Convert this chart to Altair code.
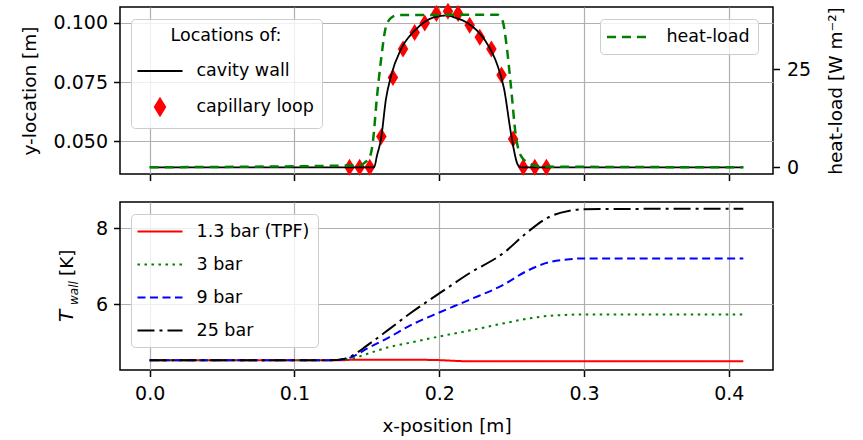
import altair as alt
import pandas as pd

FONT = "DejaVu Sans"

# ---------------- top panel data ----------------
wall_x = [0.0, 0.155, 0.157, 0.1598, 0.1632, 0.1667, 0.1736, 0.1828, 0.192, 0.2011,
          0.2055, 0.2103, 0.2196, 0.231, 0.2403, 0.2448, 0.2494, 0.254, 0.2563, 0.41]
wall_y = [0.039, 0.039, 0.044, 0.051, 0.0679, 0.0777, 0.089, 0.0967, 0.1013, 0.1030,
          0.1032, 0.1024, 0.1000, 0.0932, 0.0819, 0.0721, 0.0538, 0.0404, 0.039, 0.039]

loop_x = [0.138, 0.145, 0.152, 0.160, 0.168, 0.175, 0.183, 0.190, 0.198, 0.206,
          0.213, 0.221, 0.228, 0.236, 0.243, 0.251, 0.258, 0.266, 0.274]
loop_y = [0.039, 0.039, 0.039, 0.052, 0.077, 0.089, 0.096, 0.100, 0.104, 0.105,
          0.104, 0.099, 0.094, 0.089, 0.078, 0.051, 0.039, 0.039, 0.039]

heat_x = [0.0, 0.1437, 0.1513, 0.154, 0.157, 0.160, 0.163, 0.1667, 0.171, 0.2402,
          0.2437, 0.2465, 0.2494, 0.2529, 0.2563, 0.2632, 0.27, 0.41]
heat_q = [0.0, 0.5, 2.1, 6.0, 18.0, 28.0, 35.5, 38.0, 38.7, 38.8,
          37.3, 31.0, 21.0, 8.0, 3.0, 0.8, 0.2, 0.0]

loc_names = ["cavity wall", "capillary loop"]
heat_name = ["heat-load"]

# ---------------- bottom panel data ----------------
t_x = [0.0, 0.05, 0.10, 0.125, 0.135, 0.14, 0.15, 0.165, 0.18, 0.20, 0.22, 0.245,
       0.26, 0.275, 0.29, 0.30, 0.35, 0.41]
t_13 = [4.54, 4.54, 4.54, 4.54, 4.54, 4.55, 4.55, 4.55, 4.55, 4.54, 4.51, 4.51,
        4.51, 4.51, 4.51, 4.51, 4.51, 4.51]
t_3 = [4.54, 4.54, 4.54, 4.54, 4.55, 4.58, 4.70, 4.88, 5.00, 5.16, 5.31, 5.51,
       5.62, 5.70, 5.73, 5.74, 5.74, 5.74]
t_9 = [4.54, 4.54, 4.54, 4.54, 4.57, 4.63, 4.84, 5.13, 5.45, 5.79, 6.11, 6.53,
       6.87, 7.10, 7.19, 7.21, 7.21, 7.21]
t_25 = [4.54, 4.54, 4.54, 4.54, 4.58, 4.66, 4.92, 5.34, 5.77, 6.29, 6.80, 7.37,
        7.87, 8.28, 8.46, 8.50, 8.51, 8.51]
p_names = ["1.3 bar (TPF)", "3 bar", "9 bar", "25 bar"]

x_ticks = [0.0, 0.1, 0.2, 0.3, 0.4]
ytop_ticks = [0.05, 0.075, 0.1]
heat_ticks = [0, 25]
ybot_ticks = [6, 8]
twall_parts = ["T", "wall", "[K]"]

# ---------------- tables ----------------
wall_df = pd.DataFrame({"x": wall_x, "y": wall_y, "loc": loc_names[0]})
loop_df = pd.DataFrame({"x": loop_x, "y": loop_y, "loc": loc_names[1]})
heat_df = pd.DataFrame({"x": heat_x, "q": heat_q, "hl": heat_name[0]})
rows = []
for name, vals in zip(p_names, [t_13, t_3, t_9, t_25]):
    for xv, tv in zip(t_x, vals):
        rows.append({"x": xv, "T": tv, "p": name})
temp_df = pd.DataFrame(rows)

# ---------------- styling ----------------
LINE_PATH = "M-2.65,0L2.65,0"
DIAMOND = "M0,-1L0.62,0L0,1L-0.62,0Z"
LEG_FILL = "rgba(255,255,255,0.8)"
LEG_STROKE = "#cccccc"

x_scale = alt.Scale(domain=[-0.0205, 0.4305], nice=False, zero=False)

common_leg = dict(orient="none", labelFont=FONT, labelFontSize=17.5, labelColor="black",
                  symbolSize=289, padding=8, fillColor=LEG_FILL, strokeColor=LEG_STROKE,
                  cornerRadius=4, symbolOffset=11.5, labelOffset=27)

top_legend = alt.Legend(title="Locations of:", legendX=11, legendY=12, titleAnchor="middle",
                        titleFont=FONT, titleFontSize=17.5, titleFontWeight="normal",
                        titleColor="black", titlePadding=17, rowPadding=15,
                        symbolStrokeWidth=1.8, **common_leg)
heat_legend = alt.Legend(title=None, legendX=480, legendY=12, symbolType=LINE_PATH,
                         symbolStrokeColor="green", symbolStrokeWidth=2.5, **common_leg)
bot_legend = alt.Legend(title=None, legendX=11, legendY=12, symbolType=LINE_PATH,
                        symbolStrokeWidth=2, rowPadding=15, **common_leg)

x_top = alt.X("x:Q", scale=x_scale,
              axis=alt.Axis(title=None, labels=False, values=x_ticks, grid=True))
y_top = alt.Y("y:Q", scale=alt.Scale(domain=[0.03619, 0.10676], nice=False, zero=False),
              axis=alt.Axis(title="y-location [m]", values=ytop_ticks, format=".3f",
                            grid=True, titlePadding=14))

points = alt.Chart(loop_df).mark_point(filled=True, opacity=1).encode(
    x=x_top, y=y_top,
    fill=alt.Fill("loc:N", scale=alt.Scale(domain=loc_names, range=["transparent", "red"]),
                  legend=top_legend),
    shape=alt.Shape("loc:N", scale=alt.Scale(domain=loc_names, range=[LINE_PATH, DIAMOND]),
                    legend=top_legend),
    size=alt.value(289),
)
wall = alt.Chart(wall_df).mark_line(strokeWidth=1.8, interpolate="monotone").encode(
    x=x_top, y=y_top,
    color=alt.Color("loc:N", scale=alt.Scale(domain=loc_names, range=["black", "red"]),
                    legend=top_legend),
)
heat = alt.Chart(heat_df).mark_line(color="green", strokeWidth=2.5, interpolate="monotone").encode(
    x=x_top,
    y=alt.Y("q:Q", scale=alt.Scale(domain=[-1.7, 40.77], nice=False, zero=False),
            axis=alt.Axis(title="heat-load [W m⁻²]", orient="right", values=heat_ticks,
                          grid=False, titleAngle=270, titleBaseline="top",
                          labelPadding=7, titlePadding=16)),
    strokeDash=alt.StrokeDash("hl:N", scale=alt.Scale(domain=heat_name, range=[[9, 6]]),
                              legend=heat_legend),
)
top = alt.layer(alt.layer(points, wall), heat).resolve_scale(y="independent").properties(
    width=653, height=167)

# bottom
x_bot = alt.X("x:Q", scale=x_scale,
              axis=alt.Axis(title="x-position [m]", values=x_ticks, format=".1f", grid=True,
                            titlePadding=13))
lines = alt.Chart(temp_df).mark_line(strokeWidth=2, interpolate="monotone").encode(
    x=x_bot,
    y=alt.Y("T:Q", scale=alt.Scale(domain=[4.281, 8.690], nice=False, zero=False),
            axis=alt.Axis(title=None, values=ybot_ticks, grid=True)),
    color=alt.Color("p:N", scale=alt.Scale(domain=p_names,
                                           range=["red", "green", "blue", "black"]),
                    legend=bot_legend),
    strokeDash=alt.StrokeDash("p:N", scale=alt.Scale(domain=p_names,
                                                     range=[[1, 0], [2.5, 4.5], [8, 4.5], [17, 5, 3, 5]]),
                              legend=bot_legend),
)
lab_df = pd.DataFrame({"s": twall_parts})
t_main = alt.Chart(lab_df).transform_filter(alt.datum.s == twall_parts[0]).mark_text(
    angle=270, align="left", baseline="alphabetic", font=FONT, fontSize=20,
    fontStyle="italic", color="black").encode(text="s:N", x=alt.value(-47), y=alt.value(120))
t_sub = alt.Chart(lab_df).transform_filter(alt.datum.s == twall_parts[1]).mark_text(
    angle=270, align="left", baseline="alphabetic", font=FONT, fontSize=12,
    fontStyle="italic", color="black").encode(text="s:N", x=alt.value(-42), y=alt.value(103))
t_unit = alt.Chart(lab_df).transform_filter(alt.datum.s == twall_parts[2]).mark_text(
    angle=270, align="left", baseline="alphabetic", font=FONT, fontSize=18.5,
    color="black").encode(text="s:N", x=alt.value(-47), y=alt.value(74))
bottom = alt.layer(lines, t_main, t_sub, t_unit).properties(width=653, height=168)

chart = alt.vconcat(top, bottom, spacing=28, bounds="flush").resolve_scale(
    color="independent", strokeDash="independent", shape="independent", fill="independent"
).properties(
    padding={"left": 19, "top": 1, "right": 11, "bottom": 3}
).configure(font=FONT).configure_axis(
    labelFont=FONT, labelFontSize=19, labelColor="black",
    titleFont=FONT, titleFontSize=18.5, titleFontWeight="normal", titleColor="black",
    tickColor="black", tickWidth=1.5, tickSize=6.5, domain=False,
    gridColor="#b0b0b0", gridWidth=1.2, labelPadding=6, labelFlush=False, labelOverlap=False,
).configure_axisX(labelPadding=7.5).configure_view(
    stroke="black", strokeWidth=1.5
)

chart.save("out.html", embed_options={"renderer": "svg", "actions": False})
